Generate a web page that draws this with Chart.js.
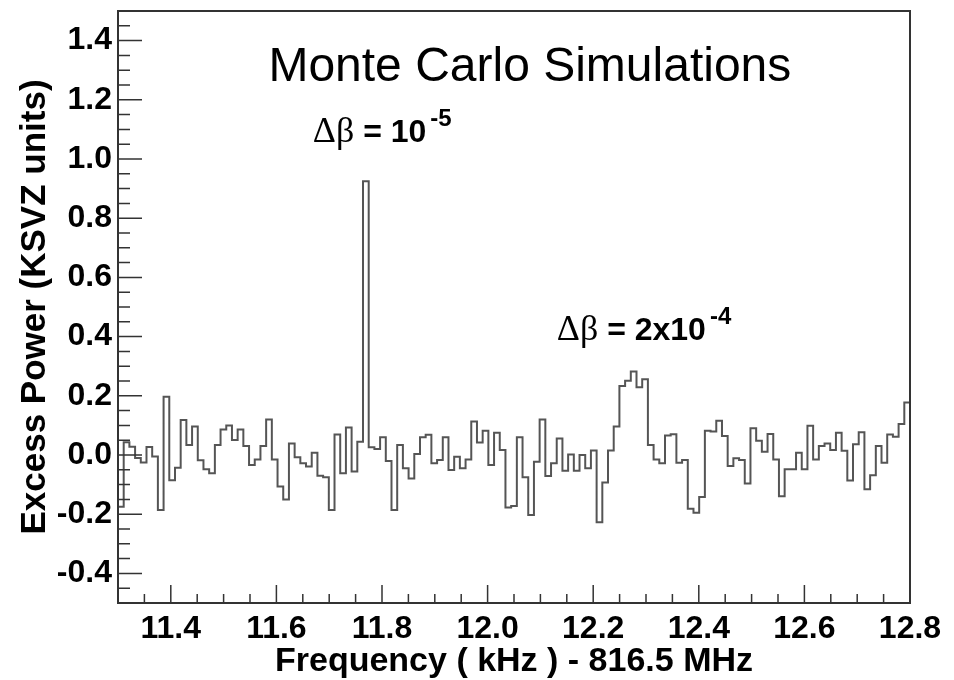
<!DOCTYPE html>
<html>
<head>
<meta charset="utf-8">
<script src="https://cdn.jsdelivr.net/npm/chart.js@4.4.1/dist/chart.umd.min.js"></script>
<style>
  html, body { margin: 0; padding: 0; background: #fff; }
  canvas { display: block; }
</style>
</head>
<body>
<canvas id="myChart" width="954" height="680"></canvas>
<script>
// histogram: excess power per frequency bin (KSVZ units)
const binValues = [
  -0.175, 0.043, 0.028, -0.010, -0.025, 0.027, -0.005, -0.186, 0.197, -0.085,
  -0.043, 0.118, 0.034, 0.096, -0.018, -0.048, -0.062, 0.034, 0.086, 0.100,
  0.051, 0.086, 0.030, -0.034, -0.015, 0.030, 0.120, -0.015, -0.106, -0.150,
  0.039, -0.008, -0.028, -0.039, 0.008, -0.070, -0.075, -0.186, 0.069, -0.062,
  0.093, -0.056, 0.045, 0.925, 0.026, 0.020, 0.060, -0.020, -0.186, 0.034,
  -0.045, -0.079, 0.003, 0.060, 0.068, -0.028, -0.017, 0.060, -0.051, -0.006,
  -0.045, -0.015, 0.113, 0.042, 0.082, -0.034, 0.075, 0.017, -0.177, -0.172,
  0.060, -0.075, -0.203, -0.023, 0.120, -0.071, -0.028, 0.056, -0.053, 0.002,
  -0.053, 0.000, -0.045, 0.015, -0.227, -0.093, 0.015, 0.096, 0.233, 0.251,
  0.282, 0.229, 0.256, 0.034, -0.015, -0.028, 0.066, 0.070, -0.026, -0.017,
  -0.182, -0.195, -0.142, 0.082, 0.079, 0.116, 0.064, -0.037, -0.011, -0.017,
  -0.096, 0.090, 0.048, 0.011, 0.071, -0.015, -0.139, -0.048, -0.048, 0.008,
  -0.048, 0.099, -0.015, 0.030, 0.039, 0.017, 0.075, 0.014, -0.086, 0.036,
  0.077, -0.116, -0.068, 0.030, -0.026, 0.069, 0.062, 0.105, 0.177
];
const freqRange = [11.3, 12.8];
const powerRange = [-0.5, 1.5];
const xTicks = [11.4, 11.6, 11.8, 12.0, 12.2, 12.4, 12.6, 12.8];
const yTicks = [-0.4, -0.2, 0.0, 0.2, 0.4, 0.6, 0.8, 1.0, 1.2, 1.4];

const sans = '"Liberation Sans", Arial, Helvetica, sans-serif';
const serif = '"Liberation Serif", "Times New Roman", serif';
const lineColor = '#555';
const frameColor = '#333';

// bin left edges + closing edge, drawn as a step line
const binWidth = (freqRange[1] - freqRange[0]) / binValues.length;
const points = binValues.map((v, i) => ({ x: freqRange[0] + i * binWidth, y: v }));
points.push({ x: freqRange[1], y: binValues[binValues.length - 1] });

const frameAndTicks = {
  id: 'frameAndTicks',
  afterDatasetsDraw(chart) {
    const { ctx, chartArea: a, scales: { x, y } } = chart;
    ctx.save();
    ctx.strokeStyle = frameColor;
    ctx.lineWidth = 1.5;
    ctx.beginPath();
    // x ticks, inward, every 0.05
    const nx = Math.round((x.max - x.min) / 0.05);
    for (let k = 0; k <= nx; k++) {
      const v = x.min + k * 0.05;
      const major = Math.abs(v / 0.2 - Math.round(v / 0.2)) < 1e-6;
      const px = x.getPixelForValue(v);
      ctx.moveTo(px, a.bottom);
      ctx.lineTo(px, a.bottom - (major ? 18 : 9));
    }
    const ny = Math.round((y.max - y.min) / 0.05);
    for (let k = 0; k <= ny; k++) {
      const v = y.min + k * 0.05;
      const major = Math.abs(v / 0.2 - Math.round(v / 0.2)) < 1e-6;
      const py = y.getPixelForValue(v);
      ctx.moveTo(a.left, py);
      ctx.lineTo(a.left + (major ? 24 : 12), py);
    }
    ctx.stroke();
    ctx.lineWidth = 2;
    ctx.strokeRect(a.left, a.top, a.right - a.left, a.bottom - a.top);
    ctx.restore();
  },
  afterDraw(chart) {
    const { ctx, scales: { x, y } } = chart;
    ctx.save();
    ctx.fillStyle = '#000';
    ctx.textBaseline = 'alphabetic';
    ctx.textAlign = 'center';
    ctx.font = '48px ' + sans;
    ctx.fillText('Monte Carlo Simulations', x.getPixelForValue(12.08), y.getPixelForValue(1.264));

    const label = (fx, fy, main, sup) => {
      let px = x.getPixelForValue(fx);
      const py = y.getPixelForValue(fy);
      ctx.textAlign = 'left';
      ctx.font = '36px ' + serif;
      ctx.fillText('\u0394\u03b2', px, py);
      px += ctx.measureText('\u0394\u03b2').width;
      ctx.font = 'bold 32px ' + sans;
      ctx.fillText(main, px, py);
      px += ctx.measureText(main).width + 4;
      ctx.font = 'bold 24px ' + sans;
      ctx.fillText(sup, px, py - 16);
    };
    label(11.669, 1.057, ' = 10', '-5');
    label(12.131, 0.389, ' = 2x10', '-4');
    ctx.restore();
  }
};

new Chart(document.getElementById('myChart'), {
  type: 'line',
  data: {
    datasets: [
      {
        data: points,
        stepped: 'before',
        borderColor: lineColor,
        borderWidth: 2,
        pointRadius: 0,
        fill: false,
        tension: 0,
      },
    ],
  },
  options: {
    responsive: false,
    animation: false,
    layout: { padding: { top: 11, right: 44, left: 0, bottom: 0 } },
    plugins: {
      legend: { display: false },
      tooltip: { enabled: false },
    },
    scales: {
      x: {
        type: 'linear',
        min: freqRange[0],
        max: freqRange[1],
        afterBuildTicks: (s) => { s.ticks = xTicks.map((v) => ({ value: v })); },
        afterFit: (s) => { s.height = 77; s.paddingLeft = 0; s.paddingRight = 0; },
        grid: { display: false, drawTicks: false },
        border: { display: false },
        ticks: {
          color: '#000',
          padding: 7,
          maxRotation: 0,
          autoSkip: false,
          font: { family: sans, size: 32, weight: 'bold' },
          callback: (v) => Number(v).toFixed(1),
        },
        title: {
          display: true,
          text: 'Frequency ( kHz ) - 816.5 MHz',
          color: '#000',
          font: { family: sans, size: 34, weight: 'bold', lineHeight: 1 },
          padding: { top: 0, bottom: 1 },
        },
      },
      y: {
        min: powerRange[0],
        max: powerRange[1],
        afterBuildTicks: (s) => { s.ticks = yTicks.map((v) => ({ value: v })); },
        afterFit: (s) => { s.width = 118; s.paddingTop = 0; s.paddingBottom = 0; },
        grid: { display: false, drawTicks: false },
        border: { display: false },
        ticks: {
          color: '#000',
          padding: 6,
          autoSkip: false,
          font: { family: sans, size: 32, weight: 'bold' },
          callback: (v) => Number(v).toFixed(1),
        },
        title: {
          display: true,
          text: 'Excess Power (KSVZ units)',
          color: '#000',
          font: { family: sans, size: 35, weight: 'bold', lineHeight: 1 },
          padding: { top: 18, bottom: 0 },
        },
      },
    },
  },
  plugins: [frameAndTicks],
});
</script>
</body>
</html>
